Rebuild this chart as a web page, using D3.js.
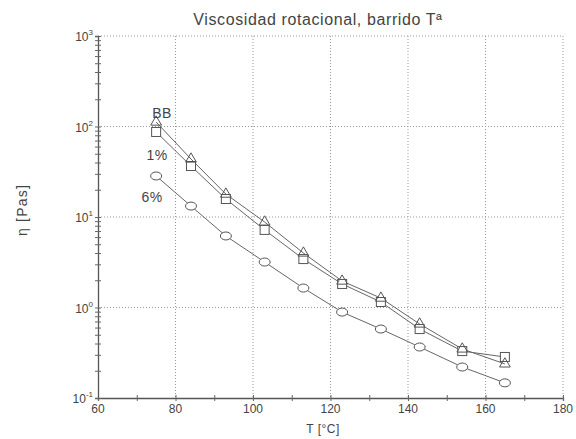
<!DOCTYPE html>
<html>
<head>
<meta charset="utf-8">
<script src="https://cdn.jsdelivr.net/npm/d3@7"></script>
<style>
  body { margin: 0; background: #fff; }
  text { font-family: "Liberation Sans", Arial, sans-serif; fill: #444; }
</style>
</head>
<body>
<div class="canvas"></div>
<script>
// data
const temps = [75, 84, 93, 103, 113, 123, 133, 143, 154, 165];
const bb = [112, 43.7, 17.9, 8.8, 4.0, 1.96, 1.27, 0.657, 0.348, 0.238];
const pct1 = [87, 36.6, 15.8, 7.2, 3.43, 1.82, 1.15, 0.578, 0.33, 0.284];
const pct6 = [28.4, 13.2, 6.17, 3.18, 1.64, 0.89, 0.578, 0.366, 0.22, 0.147];
const seriesNames = ["BB", "1%", "6%"];
const xTicks = [60, 80, 100, 120, 140, 160, 180];
const yExps = [3, 2, 1, 0, -1];

const margin = {
  top: 36,
  bottom: 41,
  left: 98,
  right: 13,
};

const graphWidth = 576 - margin.left - margin.right;
const graphHeight = 439 - margin.top - margin.bottom;

const svg = d3
  .select(".canvas")
  .append("svg")
  .attr("width", 576)
  .attr("height", 439);

const graph = svg
  .append("g")
  .attr("transform", `translate(${margin.left},${margin.top})`);

// scales
const x = d3.scaleLinear().domain([60, 180]).range([0, graphWidth]);
const y = d3.scaleLog().domain([0.1, 1000]).range([graphHeight, 0]);

// grid
const grid = graph.append("g").attr("class", "grid");
grid
  .selectAll(".gx")
  .data(xTicks.slice(1))
  .enter()
  .append("line")
  .attr("x1", (d) => x(d))
  .attr("x2", (d) => x(d))
  .attr("y1", 0)
  .attr("y2", graphHeight)
  .attr("stroke", "#999")
  .attr("stroke-width", 1)
  .attr("stroke-dasharray", "1,2");
grid
  .selectAll(".gy")
  .data(yExps.slice(0, -1))
  .enter()
  .append("line")
  .attr("x1", 0)
  .attr("x2", graphWidth)
  .attr("y1", (d) => y(Math.pow(10, d)))
  .attr("y2", (d) => y(Math.pow(10, d)))
  .attr("stroke", "#999")
  .attr("stroke-width", 1)
  .attr("stroke-dasharray", "1,2");

// axes
const xAxis = d3
  .axisBottom(x)
  .tickValues(d3.range(60, 181, 10))
  .tickSize(3)
  .tickFormat("");
const xAxisGroup = graph
  .append("g")
  .attr("transform", `translate(0,${graphHeight})`)
  .call(xAxis);

const minor = [];
for (let e = -1; e < 3; e++) {
  for (let m = 1; m < 10; m++) minor.push(m * Math.pow(10, e));
}
minor.push(1000);
const yAxis = d3.axisLeft(y).tickValues(minor).tickSize(3).tickFormat("");
const yAxisGroup = graph.append("g").call(yAxis);

[xAxisGroup, yAxisGroup].forEach((g) => {
  g.select(".domain").attr("stroke", "#555").attr("stroke-width", 1.3);
  g.selectAll(".tick line")
    .attr("stroke", "#666")
    .attr("y1", g === xAxisGroup ? -3 : null)
    .attr("x1", g === yAxisGroup ? 3 : null);
});

// tick labels
graph
  .selectAll(".xlab")
  .data(xTicks)
  .enter()
  .append("text")
  .attr("x", (d) => x(d))
  .attr("y", graphHeight + 15)
  .attr("text-anchor", "middle")
  .attr("font-size", 12)
  .text((d) => d);

const ylab = graph
  .selectAll(".ylab")
  .data(yExps)
  .enter()
  .append("text")
  .attr("x", -5)
  .attr("y", (d) => y(Math.pow(10, d)) + 5)
  .attr("text-anchor", "end")
  .attr("font-size", 12);
ylab.append("tspan").text("10");
ylab
  .append("tspan")
  .attr("dy", -6)
  .attr("font-size", 8)
  .text((d) => d);

// titles
svg
  .append("text")
  .attr("x", 318)
  .attr("y", 25)
  .attr("text-anchor", "middle")
  .attr("font-size", 16)
  .attr("letter-spacing", 0.6)
  .text("Viscosidad rotacional, barrido Tª");

svg
  .append("text")
  .attr("x", 323)
  .attr("y", 433)
  .attr("text-anchor", "middle")
  .attr("font-size", 12)
  .attr("letter-spacing", 0.5)
  .text("T  [°C]");

svg
  .append("text")
  .attr("transform", "translate(27,210) rotate(-90)")
  .attr("text-anchor", "middle")
  .attr("font-size", 14)
  .attr("letter-spacing", 1.2)
  .text("η [Pas]");

// series lines
const line = d3
  .line()
  .x((d) => x(d[0]))
  .y((d) => y(d[1]));

const series = [bb, pct1, pct6].map((vals) => temps.map((t, i) => [t, vals[i]]));

graph
  .selectAll(".series")
  .data(series)
  .enter()
  .append("path")
  .attr("fill", "none")
  .attr("stroke", "#666")
  .attr("stroke-width", 1)
  .attr("d", line);

// markers
const tri = d3.symbol().type(d3.symbolTriangle).size(50);

graph
  .selectAll(".c6")
  .data(series[2])
  .enter()
  .append("ellipse")
  .attr("cx", (d) => x(d[0]))
  .attr("cy", (d) => y(d[1]))
  .attr("rx", 5.5)
  .attr("ry", 4)
  .attr("fill", "#fff")
  .attr("stroke", "#555");

graph
  .selectAll(".s1")
  .data(series[1])
  .enter()
  .append("rect")
  .attr("x", (d) => x(d[0]) - 4.5)
  .attr("y", (d) => y(d[1]) - 4.5)
  .attr("width", 9)
  .attr("height", 9)
  .attr("fill", "#fff")
  .attr("stroke", "#555");

graph
  .selectAll(".tbb")
  .data(series[0])
  .enter()
  .append("path")
  .attr("d", tri)
  .attr("transform", (d) => `translate(${x(d[0])},${y(d[1])})`)
  .attr("fill", "none")
  .attr("stroke", "#555");

// series labels
const labelPos = [
  [162, 118],
  [157, 160],
  [152, 202],
];
svg
  .selectAll(".slab")
  .data(seriesNames)
  .enter()
  .append("text")
  .attr("x", (d, i) => labelPos[i][0])
  .attr("y", (d, i) => labelPos[i][1])
  .attr("text-anchor", "middle")
  .attr("font-size", 14)
  .attr("letter-spacing", 0.5)
  .text((d) => d);
</script>
</body>
</html>
